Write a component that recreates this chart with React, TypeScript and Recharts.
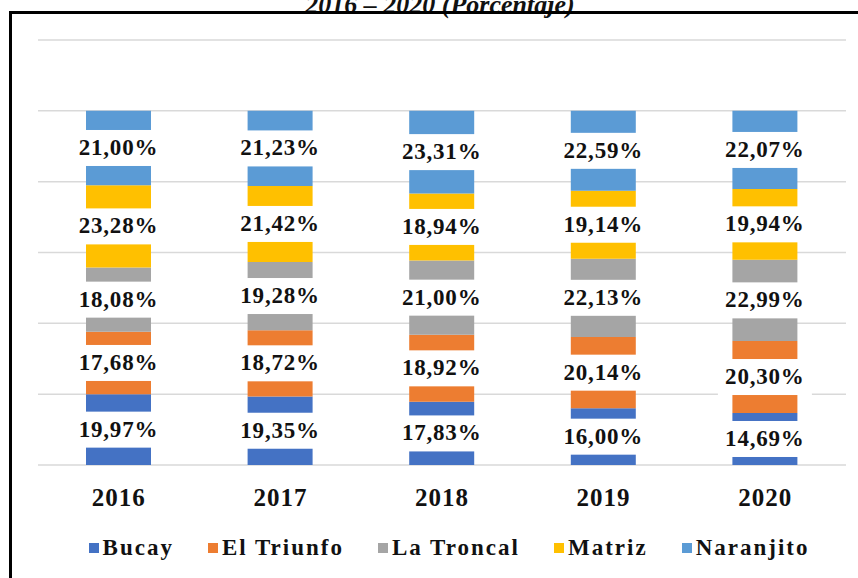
import React from "react";
import { BarChart, Bar, XAxis, YAxis, CartesianGrid, Legend, LabelList } from "recharts";

const years = ["2016", "2017", "2018", "2019", "2020"];
const bucay = [19.97, 19.35, 17.83, 16.0, 14.69];
const elTriunfo = [17.68, 18.72, 18.92, 20.14, 20.3];
const laTroncal = [18.08, 19.28, 21.0, 22.13, 22.99];
const matriz = [23.28, 21.42, 18.94, 19.14, 19.94];
const naranjito = [21.0, 21.23, 23.31, 22.59, 22.07];
const yTicks = [0, 20, 40, 60, 80, 100, 120];

const seriesDefs = [
  { key: "Bucay", values: bucay, color: "#4472C4" },
  { key: "El Triunfo", values: elTriunfo, color: "#ED7D31" },
  { key: "La Troncal", values: laTroncal, color: "#A5A5A5" },
  { key: "Matriz", values: matriz, color: "#FFC000" },
  { key: "Naranjito", values: naranjito, color: "#5B9BD5" },
];

const data = years.map((y, i) => {
  const row: any = { year: y };
  seriesDefs.forEach((s) => (row[s.key] = s.values[i]));
  return row;
});

const FONT = "Liberation Serif";

const fmt = (v: number) => v.toFixed(2).replace(".", ",") + "%";

const renderLabel = (props: any) => {
  const { x, y, width, height, value } = props;
  const cx = x + width / 2;
  const cy = y + height / 2;
  const bw = 94;
  const bh = 36;
  return (
    <g>
      <rect x={cx - bw / 2} y={cy - bh / 2} width={bw} height={bh} fill="#ffffff" />
      <text
        x={cx}
        y={cy}
        dy={7}
        textAnchor="middle"
        fontFamily={FONT}
        fontWeight="bold"
        fontSize={23}
        letterSpacing={0.8}
        fill="#111"
      >
        {fmt(value)}
      </text>
    </g>
  );
};

const YearTick = (props: any) => {
  const { x, y, payload } = props;
  return (
    <text
      x={x}
      y={y}
      dy={39}
      textAnchor="middle"
      fontFamily={FONT}
      fontWeight="bold"
      fontSize={25}
      letterSpacing={1}
      fill="#111"
    >
      {payload.value}
    </text>
  );
};

const LegendContent = () => (
  <div
    style={{
      display: "flex",
      justifyContent: "center",
      alignItems: "center",
      paddingLeft: 40,
      fontFamily: FONT,
      fontWeight: "bold",
      fontSize: 23,
      letterSpacing: 2,
      color: "#111",
    }}
  >
    {seriesDefs.map((s, i) => (
      <div key={s.key} style={{ display: "flex", alignItems: "center", marginLeft: i === 0 ? 0 : 34 }}>
        <span style={{ display: "inline-block", width: 10, height: 10, background: s.color, marginRight: 4 }} />
        <span>{s.key}</span>
      </div>
    ))}
  </div>
);

export default function App() {
  return (
    <div style={{ position: "fixed", left: 0, top: 0, width: 858, height: 578, background: "#fff", overflow: "hidden" }}>
      <div
        style={{
          position: "absolute",
          left: 0,
          top: 5,
          width: 858,
          paddingLeft: 22,
          boxSizing: "border-box",
          textAlign: "center",
          fontFamily: FONT,
          fontWeight: "bold",
          fontStyle: "italic",
          fontSize: 26,
          lineHeight: "0px",
          color: "#111",
        }}
      >
        2016 – 2020 (Porcentaje)
      </div>
      <div style={{ position: "absolute", left: 9, top: 11, width: 849, height: 3, background: "#000" }} />
      <div style={{ position: "absolute", left: 9, top: 11, width: 3, height: 567, background: "#000" }} />
      <div style={{ position: "absolute", left: 0, top: 0 }}>
        <BarChart width={858} height={578} data={data} margin={{ top: 40, right: 12, left: 38, bottom: 47 }}>
          <CartesianGrid horizontal vertical={false} stroke="#d9d9d9" strokeWidth={1.5} />
          <YAxis hide domain={[0, 120]} ticks={yTicks} />
          <XAxis
            dataKey="year"
            height={40}
            axisLine={false}
            tickLine={false}
            tickSize={0}
            tick={<YearTick />}
            interval={0}
          />
          <Legend
            verticalAlign="bottom"
            content={<LegendContent />}
            wrapperStyle={{ position: "absolute", left: 0, top: 535, width: 858 }}
          />
          {seriesDefs.map((s) => (
            <Bar key={s.key} dataKey={s.key} stackId="a" fill={s.color} barSize={65} isAnimationActive={false}>
              <LabelList dataKey={s.key} content={renderLabel} />
            </Bar>
          ))}
        </BarChart>
      </div>
    </div>
  );
}
